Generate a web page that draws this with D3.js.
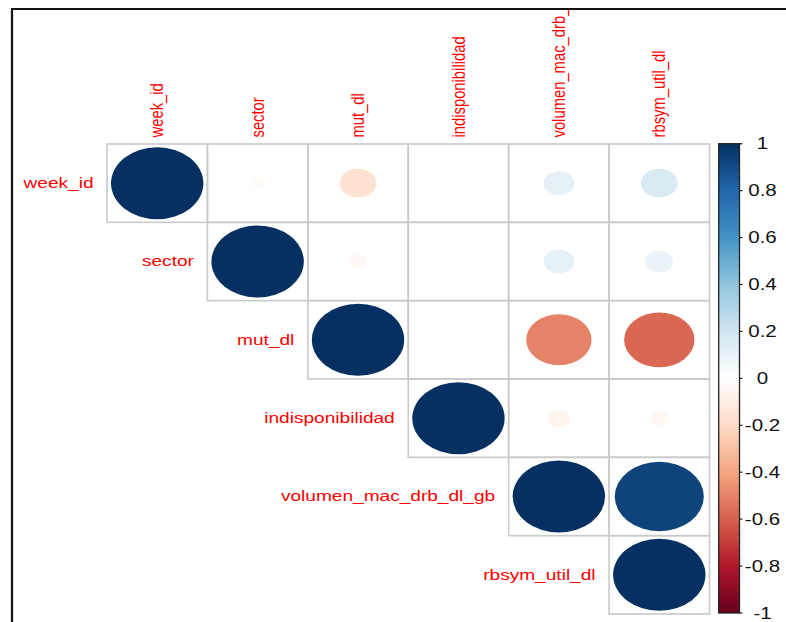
<!DOCTYPE html>
<html>
<head>
<meta charset="utf-8">
<script src="https://cdn.jsdelivr.net/npm/d3@7"></script>
<style>
  html, body { margin: 0; padding: 0; background: #ffffff; }
  svg { display: block; }
  text { font-family: "Liberation Sans", Arial, Helvetica, sans-serif; }
</style>
</head>
<body>
<svg id="chart" width="786" height="622"></svg>
<script>
// Variables of the correlation matrix (rows and columns share this order)
const variables = ["week_id", "sector", "mut_dl", "indisponibilidad", "volumen_mac_drb_dl_gb", "rbsym_util_dl"];

// Upper triangle of the correlation matrix, one array per row (null = lower triangle)
const rowWeekId   = [1, -0.02, -0.16, -0.003, 0.11, 0.16];
const rowSector   = [null, 1, -0.04, 0.003, 0.11, 0.09];
const rowMutDl    = [null, null, 1, 0.002, -0.50, -0.58];
const rowIndisp   = [null, null, null, 1, -0.06, -0.04];
const rowVolumen  = [null, null, null, null, 1, 0.93];
const rowRbsym    = [null, null, null, null, null, 1];
const corrRows = [rowWeekId, rowSector, rowMutDl, rowIndisp, rowVolumen, rowRbsym];

// Colour legend ticks
const legendTicks = [1, 0.8, 0.6, 0.4, 0.2, 0, -0.2, -0.4, -0.6, -0.8, -1];
const legendLabels = ["1", "0.8", "0.6", "0.4", "0.2", "0", "-0.2", "-0.4", "-0.6", "-0.8", "-1"];

// RdBu diverging palette, from -1 to 1
const paletteStops = [-1, -0.8, -0.6, -0.4, -0.2, 0, 0.2, 0.4, 0.6, 0.8, 1];
const paletteColors = ["#67001F", "#B2182B", "#D6604D", "#F4A582", "#FDDBC7", "#FFFFFF",
                       "#D1E5F0", "#92C5DE", "#4393C3", "#2166AC", "#053061"];

const svg = d3.select("#chart");
const color = d3.scaleLinear().domain(paletteStops).range(paletteColors).interpolate(d3.interpolateRgb);

const x = d3.scaleBand().domain(variables).range([107, 709.5]).padding(0);
const y = d3.scaleBand().domain(variables).range([144, 614]).padding(0);
const bw = x.bandwidth(), bh = y.bandwidth();
const kx = bw / bh; // horizontal stretch of the whole plot

// clip region inside the frame
const defs = svg.append("defs");
defs.append("clipPath").attr("id", "frameClip")
  .append("rect").attr("x", 13).attr("y", 10).attr("width", 773).attr("height", 612);

const root = svg.append("g").attr("clip-path", "url(#frameClip)");

// cells of the upper triangle
const cells = [];
corrRows.forEach((row, i) => {
  row.forEach((v, j) => {
    if (v !== null && j >= i) cells.push({ row: variables[i], col: variables[j], value: v });
  });
});

const cellG = root.append("g");
cellG.selectAll("ellipse").data(cells).join("ellipse")
  .attr("cx", d => x(d.col) + bw / 2)
  .attr("cy", d => y(d.row) + bh / 2)
  .attr("rx", d => 0.46 * Math.sqrt(Math.abs(d.value)) * bw)
  .attr("ry", d => 0.46 * Math.sqrt(Math.abs(d.value)) * bh)
  .attr("fill", d => color(d.value));

cellG.selectAll("rect").data(cells).join("rect")
  .attr("x", d => x(d.col))
  .attr("y", d => y(d.row))
  .attr("width", bw)
  .attr("height", bh)
  .attr("fill", "none")
  .attr("stroke", "#c9c9c9")
  .attr("stroke-width", 1.6);

// row labels, left of the first cell of each row
root.append("g").selectAll("text").data(variables).join("text")
  .attr("transform", d => `translate(${x(d) - 13.5},${y(d) + bh / 2}) scale(${kx},1)`)
  .attr("text-anchor", "end")
  .attr("dominant-baseline", "central")
  .attr("font-size", 14.9)
  .attr("fill", "#ff0000")
  .text(d => d);

// column labels, rotated above the grid
root.append("g").selectAll("text").data(variables).join("text")
  .attr("transform", d => `translate(${x(d) + bw / 2},137.5) scale(${kx},1) rotate(-90)`)
  .attr("text-anchor", "start")
  .attr("dominant-baseline", "central")
  .attr("font-size", 14.8)
  .attr("fill", "#ff0000")
  .text(d => d);

// colour legend
const barX = 718.7, barW = 20.8;
const ly = d3.scaleLinear().domain([-1, 1]).range([613, 143.7]);
const grad = defs.append("linearGradient").attr("id", "corrGrad")
  .attr("x1", 0).attr("y1", 1).attr("x2", 0).attr("y2", 0);
grad.selectAll("stop").data(paletteStops).join("stop")
  .attr("offset", d => (d + 1) / 2)
  .attr("stop-color", d => color(d));

const legend = root.append("g");
legend.append("rect")
  .attr("x", barX).attr("y", ly(1))
  .attr("width", barW).attr("height", ly(-1) - ly(1))
  .attr("fill", "url(#corrGrad)")
  .attr("stroke", "#222")
  .attr("stroke-width", 1.3);

legend.selectAll("line").data(legendTicks).join("line")
  .attr("x1", barX + barW).attr("x2", barX + barW + 3)
  .attr("y1", d => ly(d)).attr("y2", d => ly(d))
  .attr("stroke", "#222").attr("stroke-width", 1.2);

legend.selectAll("text").data(legendTicks).join("text")
  .attr("transform", d => `translate(762.5,${ly(d)}) scale(${kx},1)`)
  .attr("text-anchor", "middle")
  .attr("dominant-baseline", "central")
  .attr("font-size", 16)
  .attr("fill", "#111")
  .text((d, i) => legendLabels[i]);

// outer frame (top and left edges)
svg.append("line").attr("x1", 11).attr("x2", 786).attr("y1", 9).attr("y2", 9)
  .attr("stroke", "#111").attr("stroke-width", 2.2);
svg.append("line").attr("x1", 12).attr("x2", 12).attr("y1", 8).attr("y2", 622)
  .attr("stroke", "#111").attr("stroke-width", 2.2);
</script>
</body>
</html>
